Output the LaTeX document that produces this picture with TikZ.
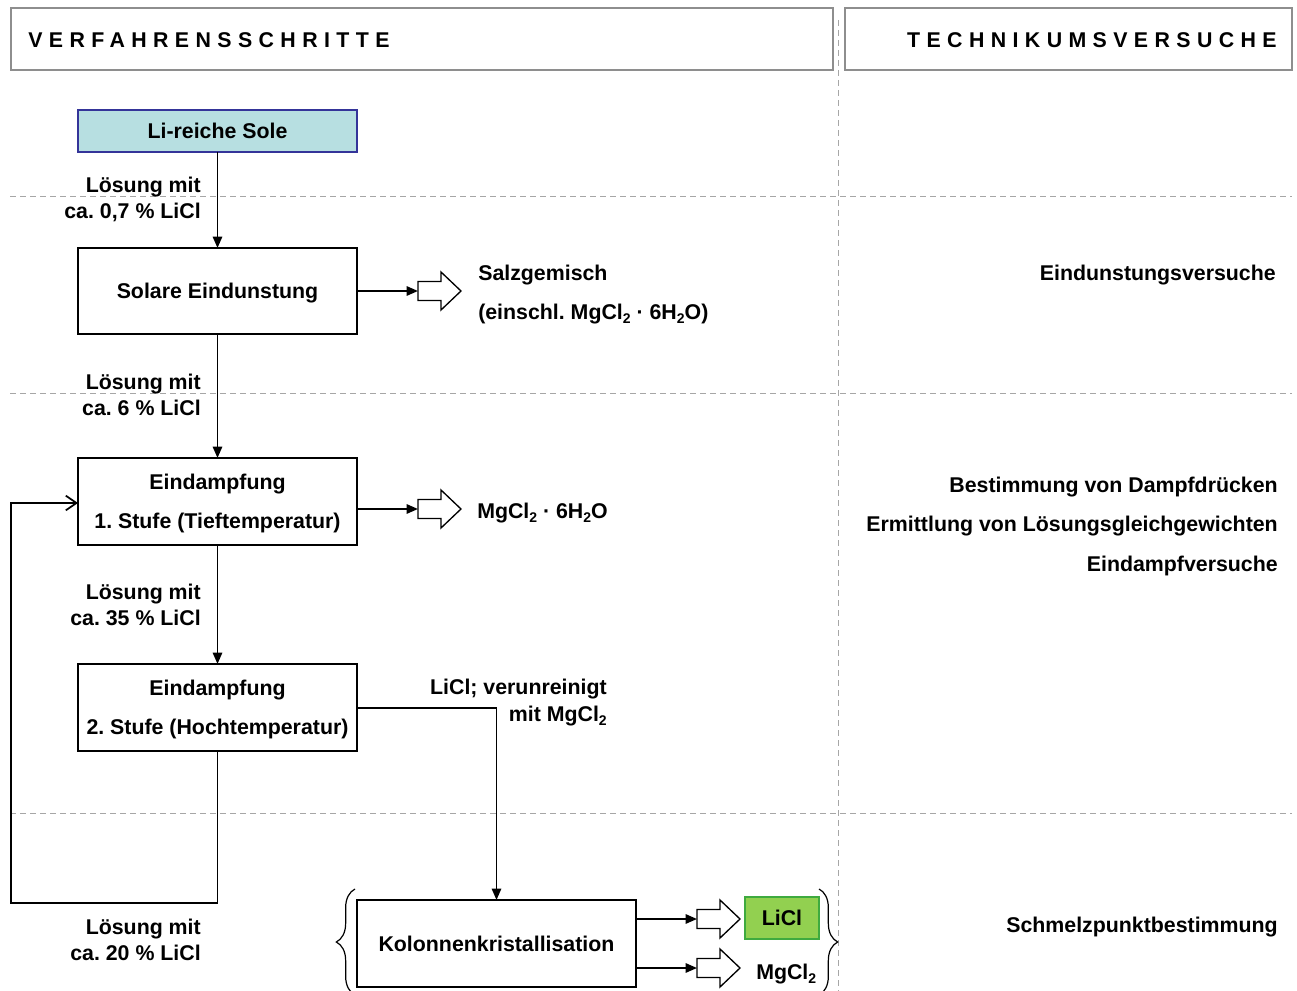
\documentclass[tikz,border=0pt]{standalone}
\usepackage{fontspec}
\setmainfont{Liberation Sans}
\usetikzlibrary{arrows.meta,decorations.pathreplacing}
\frenchspacing
\newcommand\idx[1]{\raisebox{-0.35ex}{\fontsize{10.5}{10.5}\selectfont #1}}
\definecolor{soleblue}{HTML}{B7DFE1}
\definecolor{soleedge}{HTML}{343499}
\definecolor{liclgreen}{HTML}{92D050}
\definecolor{licledge}{HTML}{3FAA3F}
\definecolor{headedge}{HTML}{8E8E8E}
\definecolor{ruleclr}{HTML}{A6A6A6}
\tikzset{
  box/.style={draw, line width=1.3pt, inner sep=0pt, outer sep=0pt,
    minimum width=209.25pt, minimum height=64.5pt, align=center, text depth=0pt,
    font=\fontsize{16}{29.25}\selectfont\bfseries},
  lbl/.style={inner sep=0pt, anchor=base east},
  lblw/.style={inner sep=0pt, anchor=base west},
  flow/.style={line width=1.3pt, -{Triangle[length=8.5pt,width=7pt]}},
  feedback/.style={line width=1.3pt, -{Straight Barb[length=8pt,width=11pt]}},
  rule/.style={draw=ruleclr, line width=0.75pt, dash pattern=on 4.5pt off 3pt},
  headbox/.style={draw=headedge, line width=1.4pt, inner sep=0pt},
  headtxt/.style={inner sep=0pt, font=\fontsize{16}{19}\selectfont\bfseries\addfontfeature{LetterSpace=30}},
  brc/.style={line width=0.9pt, decorate, decoration={brace, amplitude=14pt}},
  hollow/.pic={\draw[line width=1pt, fill=white, line join=miter]
    (0,-9.5) -- (23,-9.5) -- (23,-19) -- (43,0) -- (23,19) -- (23,9.5) -- (0,9.5) -- cycle;}
}
\begin{document}
\begin{tikzpicture}[x=0.75pt, y=-0.75pt,
  every node/.style={font=\fontsize{16}{19}\selectfont\bfseries}]
\useasboundingbox (0,0) rectangle (1297,991);

% column headers
\node[headbox, minimum width=616.5pt, minimum height=46.5pt] (hl) at (422,39) {};
\node[headbox, minimum width=335.25pt, minimum height=46.5pt] (hr) at (1068.5,39) {};
\node[headtxt, anchor=base west] (hlt) at (28,47.5) {VERFAHRENSSCHRITTE};
\node[headtxt, anchor=base east] (hrt) at (1277,47.5) {TECHNIKUMSVERSUCHE};

% separating rules
\draw[rule] (838,20) -- (838,991);
\draw[rule] (10,197) -- (1292,197);
\draw[rule] (10,394) -- (1292,394);
\draw[rule] (10,813) -- (1292,813);

% process steps
\node[box, fill=soleblue, draw=soleedge, minimum height=31.5pt] (sole) at (217.5,131) {Li-reiche Sole};
\node[box] (solar) at (217.5,291) {Solare Eindunstung};
\node[box, minimum height=65.25pt] (e1) at (217.5,501.5) {Eindampfung\\1. Stufe (Tieftemperatur)};
\node[box, minimum height=65.25pt] (e2) at (217.5,707.5) {Eindampfung\\2. Stufe (Hochtemperatur)};
\node[box, minimum height=65.25pt] (kol) at (496.5,943.5) {Kolonnenkristallisation};
\node[box, draw=licledge, fill=liclgreen, minimum width=55.5pt, minimum height=31.5pt] (licl) at (782,918) {LiCl};

% stream labels
\node[lbl] (c1a) at (201,192.5) {Lösung mit};
\node[lbl] (c1b) at (201,218.5) {ca. 0,7 \% LiCl};
\node[lbl] (c2a) at (201,389.5) {Lösung mit};
\node[lbl] (c2b) at (201,415.5) {ca. 6 \% LiCl};
\node[lbl] (c3a) at (201,599.5) {Lösung mit};
\node[lbl] (c3b) at (201,625.5) {ca. 35 \% LiCl};
\node[lbl] (c4a) at (201,934.5) {Lösung mit};
\node[lbl] (c4b) at (201,960.5) {ca. 20 \% LiCl};
\node[lbl] (c5a) at (607,694.5) {LiCl; verunreinigt};
\node[lbl] (c5b) at (607,721.5) {mit MgCl\idx{2}};

% products
\node[lblw] (p1a) at (478,280.5) {Salzgemisch};
\node[lblw] (p1b) at (478,319.5) {(einschl. MgCl\idx{2} · 6H\idx{2}O)};
\node[lblw] (p2) at (477,518.5) {MgCl\idx{2} · 6H\idx{2}O};
\node[lblw] (p3) at (756,979.5) {MgCl\idx{2}};

% pilot tests
\node[lbl] (t1) at (1276,280.5) {Eindunstungsversuche};
\node[lbl] (t2) at (1278,492.5) {Bestimmung von Dampfdrücken};
\node[lbl] (t3) at (1278,531.5) {Ermittlung von Lösungsgleichgewichten};
\node[lbl] (t4) at (1278,571.5) {Eindampfversuche};
\node[lbl] (t5) at (1278,932.5) {Schmelzpunktbestimmung};

% main flow
\draw[flow] (sole) -- (solar);
\draw[flow] (solar) -- (e1);
\draw[flow] (e1) -- (e2);
\coordinate (bend) at (496.5,708);
\draw[flow] (e2.east |- bend) -- (bend) -- (kol.north);

% recycle loop
\coordinate (fb1) at (11,903);
\coordinate (fb2) at (11,503);
\draw[feedback] (e2.south) |- (fb1) -- (fb2) -- (e1.west |- fb2);

% side outputs
\coordinate (h1) at (418,291);
\coordinate (h2) at (418,509);
\coordinate (h3) at (697,919);
\coordinate (h4) at (697,968);
\draw[flow] (solar.east |- h1) -- (h1);
\draw[flow] (e1.east |- h2) -- (h2);
\draw[flow] (kol.east |- h3) -- (h3);
\draw[flow] (kol.east |- h4) -- (h4);
\pic at (h1) {hollow};
\pic at (h2) {hollow};
\pic at (h3) {hollow};
\pic at (h4) {hollow};

% braces around the crystallisation stage
\draw[brc] (355,995) -- (355,889);
\draw[brc] (819,889) -- (819,995);
\end{tikzpicture}
\end{document}
